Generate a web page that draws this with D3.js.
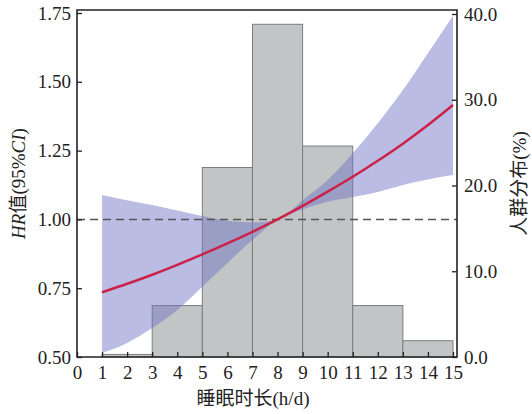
<!DOCTYPE html>
<html>
<head>
<meta charset="utf-8">
<script src="https://cdn.jsdelivr.net/npm/d3@7"></script>
<style>
  body { margin: 0; background: #fff; }
  svg text { font-family: "Liberation Serif", "Noto Sans CJK SC", serif; fill: #222; }
</style>
</head>
<body>
<svg id="chart" width="532" height="414"></svg>
<script>
// histogram bins (h/d) and share of population (%)
var binStart = [1, 3, 5, 7, 9, 11, 13];
var binEnd = [3, 5, 7, 9, 11, 13, 15];
var binPct = [0.3, 6.0, 22.1, 38.8, 24.6, 6.0, 1.9];

// restricted cubic spline HR with 95% CI
var hours = [1, 2, 3, 4, 5, 6, 7, 8, 9, 10, 11, 12, 13, 14, 15];
var hr = [0.735, 0.766, 0.799, 0.835, 0.873, 0.913, 0.955, 1.0, 1.049, 1.101, 1.155, 1.213, 1.275, 1.343, 1.416];
var hrLow = [0.515, 0.551, 0.605, 0.671, 0.755, 0.842, 0.925, 1.0, 1.036, 1.064, 1.081, 1.10, 1.125, 1.145, 1.161];
var hrHigh = [1.089, 1.07, 1.052, 1.032, 1.012, 0.995, 0.989, 1.0, 1.07, 1.143, 1.24, 1.349, 1.47, 1.604, 1.74];

var xTicks = d3.range(0, 16);
var hrTicks = [0.5, 0.75, 1.0, 1.25, 1.5, 1.75];
var pctTicks = [0, 10, 20, 30, 40];

var mLeft = 77, mRight = 457, mTop = 10, mBottom = 357;

var svg = d3.select("#chart");

var x = d3.scaleLinear().domain([0, 15]).range([mLeft, 453]);
var yHR = d3.scaleLinear().domain([0.5, 1.75]).range([mBottom, 13]);
var yPct = d3.scaleLinear().domain([0, 40]).range([mBottom, 14]);

// bars
svg.append("g").selectAll("rect")
    .data(binPct)
    .enter().append("rect")
    .attr("x", function(d, i) { return x(binStart[i]); })
    .attr("width", function(d, i) { return x(binEnd[i]) - x(binStart[i]); })
    .attr("y", function(d) { return yPct(d); })
    .attr("height", function(d) { return mBottom - yPct(d); })
    .attr("fill", "#c2c5c6")
    .attr("stroke", "#7d7d7d")
    .attr("stroke-width", 1);

// CI band
var band = d3.area()
    .x(function(d, i) { return x(hours[i]); })
    .y0(function(d, i) { return yHR(hrLow[i]); })
    .y1(function(d, i) { return yHR(hrHigh[i]); })
    .curve(d3.curveMonotoneX);

svg.append("path")
    .datum(hours)
    .attr("d", band)
    .attr("fill", "#6e73c4")
    .attr("fill-opacity", 0.48);

// reference line HR = 1
svg.append("line")
    .attr("x1", mLeft).attr("x2", mRight)
    .attr("y1", yHR(1)).attr("y2", yHR(1))
    .attr("stroke", "#555")
    .attr("stroke-width", 1.5)
    .attr("stroke-dasharray", "8,5");

// HR curve
var line = d3.line()
    .x(function(d, i) { return x(hours[i]); })
    .y(function(d) { return yHR(d); })
    .curve(d3.curveMonotoneX);

svg.append("path")
    .datum(hr)
    .attr("d", line)
    .attr("fill", "none")
    .attr("stroke", "#cc2149")
    .attr("stroke-width", 2.5);

// axes (ticks point inward)
var axisBottom = d3.axisBottom(x).tickValues(xTicks).tickSize(-5).tickPadding(9)
    .tickFormat(d3.format("d"));
var axisLeft = d3.axisLeft(yHR).tickValues(hrTicks).tickSize(-5).tickPadding(6)
    .tickFormat(d3.format(".2f"));
var axisRight = d3.axisRight(yPct).tickValues(pctTicks).tickSize(-5).tickPadding(7)
    .tickFormat(d3.format(".1f"));

function styleAxis(g) {
    g.select(".domain").remove();
    g.selectAll(".tick line").attr("stroke", "#222").attr("stroke-width", 1.3);
    g.selectAll(".tick text").attr("font-size", 19).attr("fill", "#222")
        .style("font-family", "'Liberation Serif', serif");
}

svg.append("g").attr("transform", "translate(0," + mBottom + ")").call(axisBottom).call(styleAxis);
svg.append("g").attr("transform", "translate(" + mLeft + ",0)").call(axisLeft).call(styleAxis);
svg.append("g").attr("transform", "translate(" + mRight + ",0)").call(axisRight).call(styleAxis);

// frame
svg.append("path")
    .attr("d", "M" + mLeft + "," + mTop + "H" + mRight + "V" + mBottom + "H" + mLeft + "Z")
    .attr("fill", "none")
    .attr("stroke", "#222")
    .attr("stroke-width", 1.6);

// titles
var yTitle = svg.append("text")
    .attr("transform", "translate(25," + ((mTop + mBottom) / 2) + ") rotate(-90)")
    .attr("text-anchor", "middle")
    .attr("font-size", 19);
yTitle.append("tspan").attr("font-style", "italic").text("HR");
yTitle.append("tspan").text("值(95%");
yTitle.append("tspan").attr("font-style", "italic").text("CI");
yTitle.append("tspan").text(")");

svg.append("text")
    .attr("transform", "translate(526," + ((mTop + mBottom) / 2) + ") rotate(-90)")
    .attr("text-anchor", "middle")
    .attr("font-size", 19)
    .text("人群分布(%)");

svg.append("text")
    .attr("x", 253).attr("y", 405)
    .attr("text-anchor", "middle")
    .attr("font-size", 19)
    .text("睡眠时长(h/d)");
</script>
</body>
</html>
